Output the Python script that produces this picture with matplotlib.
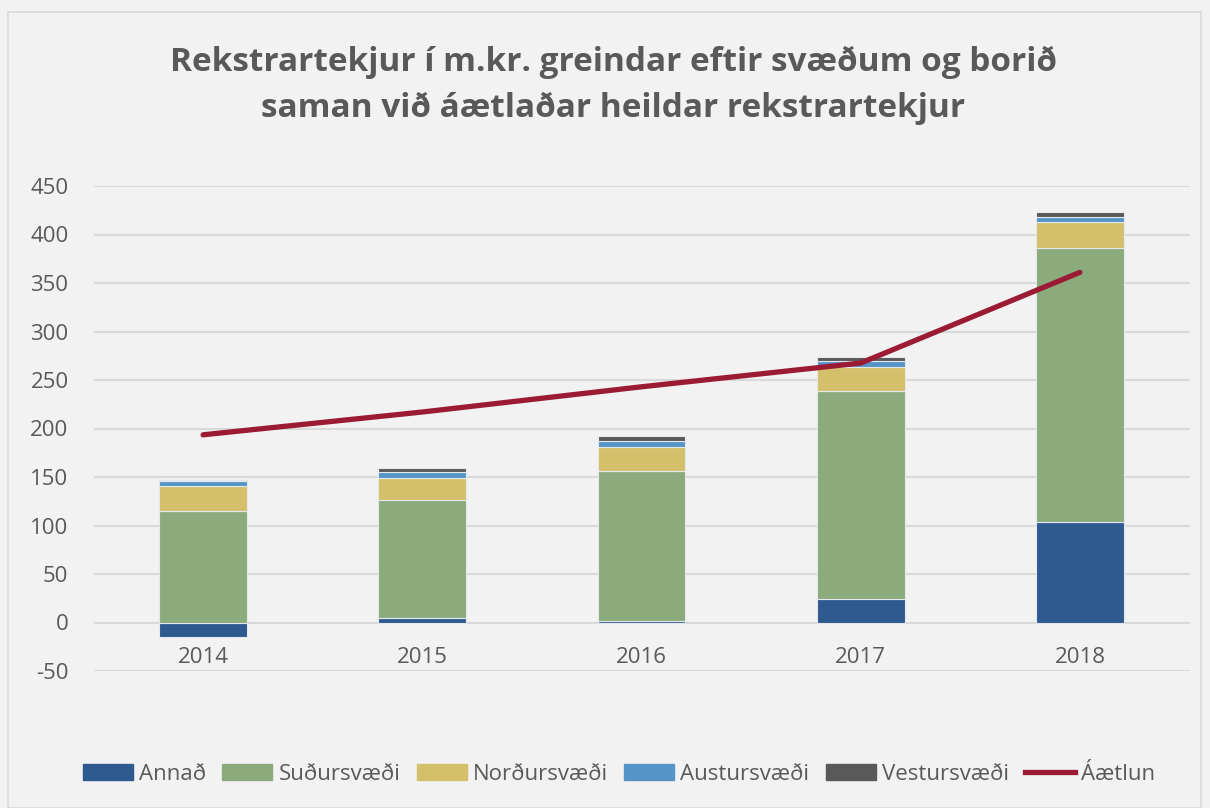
import matplotlib
matplotlib.use("Agg")
import matplotlib.pyplot as plt
import numpy as np
from matplotlib.patches import Rectangle
from matplotlib.lines import Line2D

years = ["2014", "2015", "2016", "2017", "2018"]
annad = [-15.3, 5.0, 1.5, 24.3, 103.7]
sudur = [115.4, 121.7, 155.2, 213.9, 282.1]
nordur = [25.8, 22.4, 24.4, 24.8, 27.2]
austur = [5.1, 6.2, 5.9, 6.9, 5.2]
vestur = [0.7, 4.1, 5.5, 3.4, 5.1]
aaetlun = [193.5, 217.0, 243.0, 267.5, 361.0]

series_names = ["Annað", "Suðursvæði", "Norðursvæði", "Austursvæði", "Vestursvæði"]
colors = ["#2e5a8f", "#8cab7d", "#d4c06a", "#5594c7", "#595959"]
line_color = "#9b1b35"
yticks = [-50, 0, 50, 100, 150, 200, 250, 300, 350, 400, 450]

plt.rcParams['font.family'] = ['Open Sans', 'DejaVu Sans']
text_color = "#595959"
bg = "#f2f2f2"

fig = plt.figure(figsize=(12.1, 8.08), dpi=100, facecolor=bg)
ax = fig.add_axes([93.5/1210, 1-671/808, (1189.5-93.5)/1210, (671-186)/808])
ax.set_facecolor(bg)

x = np.arange(len(years))
w = 0.4
edge = dict(edgecolor="#e4e8ec", linewidth=0.8)
ax.bar(x, annad, w, color=colors[0], zorder=3, **edge)
pos_base = np.array([max(a, 0) for a in annad], dtype=float)
for vals, c in zip([sudur, nordur, austur, vestur], colors[1:]):
    ax.bar(x, vals, w, bottom=pos_base, color=c, zorder=3, **edge)
    pos_base = pos_base + np.array(vals)

ax.plot(x, aaetlun, color=line_color, linewidth=3.8, solid_capstyle='round', zorder=4)

ax.set_xlim(-0.5, len(years)-0.5)
ax.set_ylim(-50, 450)
ax.set_yticks(yticks)
ax.set_yticklabels([str(v) for v in yticks], fontsize=16, color=text_color)
ax.tick_params(axis='y', length=0, pad=18)
ax.set_xticks([])
ax.yaxis.grid(True, color="#d9d9d9", linewidth=1.5, zorder=0)
ax.set_axisbelow(True)
for s in ax.spines.values():
    s.set_visible(False)

for i, yl in enumerate(years):
    ax.annotate(yl, xy=(i, 0), xycoords='data', xytext=(0, -25.5), textcoords='offset points',
                ha='center', va='center', fontsize=16, color=text_color)

fig.text(613/1210, 1-62/808, "Rekstrartekjur í m.kr. greindar eftir svæðum og borið",
         ha='center', va='center', fontsize=24, fontweight='bold', color=text_color)
fig.text(613/1210, 1-108/808, "saman við áætlaðar heildar rekstrartekjur",
         ha='center', va='center', fontsize=24, fontweight='bold', color=text_color)

handles = [Rectangle((0, 0), 1, 1, color=c) for c in colors]
handles.append(Line2D([0], [0], color=line_color, linewidth=3.8))
leg = fig.legend(handles, series_names + ["Áætlun"], loc='center', bbox_to_anchor=(619/1210, 1-774/808),
                 ncol=6, frameon=False, fontsize=16, handlelength=2.25, handleheight=0.7,
                 handletextpad=0.27, columnspacing=0.74, labelcolor=text_color)

fig.patches.append(Rectangle((8/1210, 0), (1201-8)/1210, (808-12)/808, transform=fig.transFigure,
                             fill=False, edgecolor="#d9d9d9", linewidth=1.2))

fig.savefig("out.png", dpi=100, facecolor=bg)
